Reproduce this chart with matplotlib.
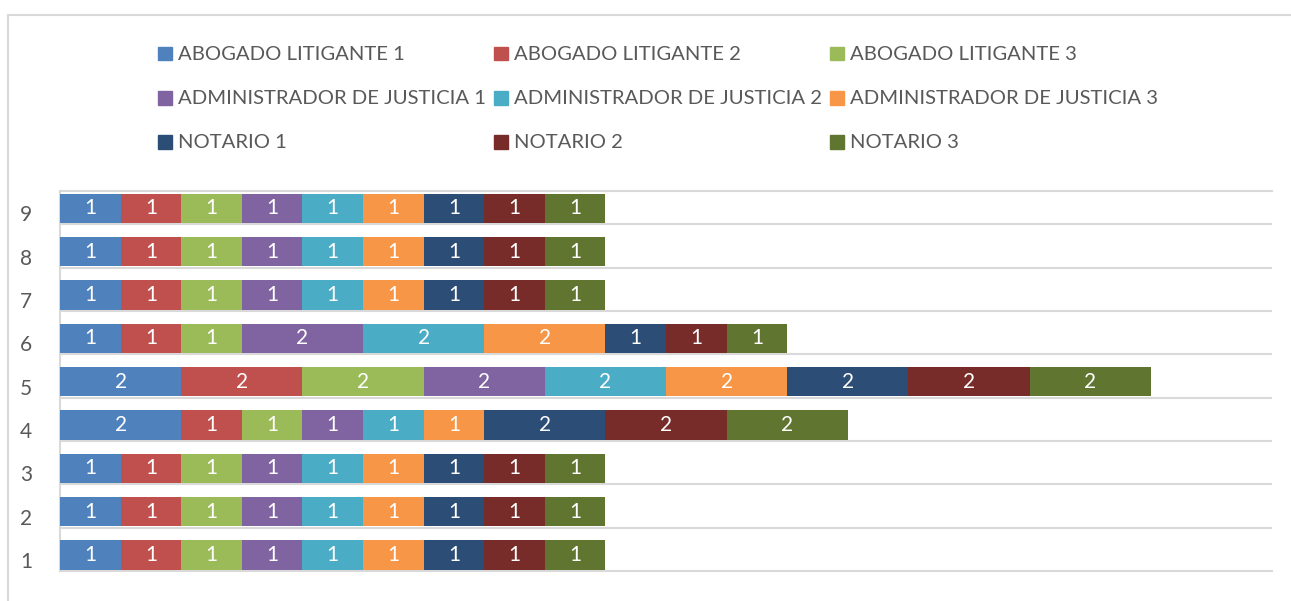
import numpy as np
import matplotlib.pyplot as plt
from matplotlib.patches import Rectangle
import matplotlib.transforms as mtransforms

plt.rcParams['font.family'] = ['Lato', 'DejaVu Sans']

categories = ["1", "2", "3", "4", "5", "6", "7", "8", "9"]
series_names = ["ABOGADO LITIGANTE 1", "ABOGADO LITIGANTE 2", "ABOGADO LITIGANTE 3",
                "ADMINISTRADOR DE JUSTICIA 1", "ADMINISTRADOR DE JUSTICIA 2", "ADMINISTRADOR DE JUSTICIA 3",
                "NOTARIO 1", "NOTARIO 2", "NOTARIO 3"]
colors = ["#4F81BD", "#C0504D", "#9BBB59", "#8064A2", "#4BACC6", "#F79646",
          "#2C4D75", "#772C2A", "#5F7530"]

# valores por serie, categorias 1..9
abogado1 = [1, 1, 1, 2, 2, 1, 1, 1, 1]
abogado2 = [1, 1, 1, 1, 2, 1, 1, 1, 1]
abogado3 = [1, 1, 1, 1, 2, 1, 1, 1, 1]
admin1 = [1, 1, 1, 1, 2, 2, 1, 1, 1]
admin2 = [1, 1, 1, 1, 2, 2, 1, 1, 1]
admin3 = [1, 1, 1, 1, 2, 2, 1, 1, 1]
notario1 = [1, 1, 1, 2, 2, 1, 1, 1, 1]
notario2 = [1, 1, 1, 2, 2, 1, 1, 1, 1]
notario3 = [1, 1, 1, 2, 2, 1, 1, 1, 1]
data = [abogado1, abogado2, abogado3, admin1, admin2, admin3, notario1, notario2, notario3]

W, H = 1291, 601
fig = plt.figure(figsize=(W / 100, H / 100), dpi=100)

def fx(px):
    return px / W

def fy(py):
    return 1 - py / H

# marco del grafico
fig.patches.append(Rectangle((fx(8), fy(700)), fx(1400), fy(15) - fy(700),
                             transform=fig.transFigure, fill=False,
                             edgecolor="#d9d9d9", linewidth=1.5))

ax = fig.add_axes([fx(60), fy(571), fx(1272) - fx(60), fy(191) - fy(571)])

y = np.arange(1, len(categories) + 1)
left = np.zeros(len(categories))
for name, vals, c in zip(series_names, data, colors):
    vals = np.array(vals)
    bars = ax.barh(y, vals, left=left, height=0.68, color=c, label=name, zorder=3)
    ax.bar_label(bars, labels=[str(v) for v in vals], label_type='center',
                 color='white', fontsize=15)
    left += vals

ax.set_xlim(0, 20)
ax.set_ylim(0.63, 9.40)
for g in y[1:] - 0.37:
    ax.axhline(g, color="#d9d9d9", linewidth=1.5, zorder=1)

ax.set_xticks([])
ax.set_yticks(y)
ax.set_yticklabels(categories, fontsize=15, color="#595959")
ax.tick_params(axis='y', length=0, pad=20)
offset = mtransforms.ScaledTranslation(0, -5 / 100, fig.dpi_scale_trans)
for lab in ax.get_yticklabels():
    lab.set_transform(lab.get_transform() + offset)

for s in ["top", "bottom", "left"]:
    ax.spines[s].set_color("#d9d9d9")
    ax.spines[s].set_linewidth(1.5)
ax.spines["right"].set_visible(False)

# leyenda en 3 columnas
col_x = [158.3, 494.3, 830.3]
row_y = [53.5, 98, 142]
for i, (name, c) in enumerate(zip(series_names, colors)):
    cx = col_x[i % 3]
    cy = row_y[i // 3]
    fig.patches.append(Rectangle((fx(cx), fy(cy + 6.7)), fx(13.4), fy(cy - 6.7) - fy(cy + 6.7),
                                 transform=fig.transFigure, color=c))
    fig.text(fx(cx + 20), fy(cy + 1), name, fontsize=14.6, color="#595959",
             va='center', ha='left')

plt.savefig('out.png', dpi=100)
